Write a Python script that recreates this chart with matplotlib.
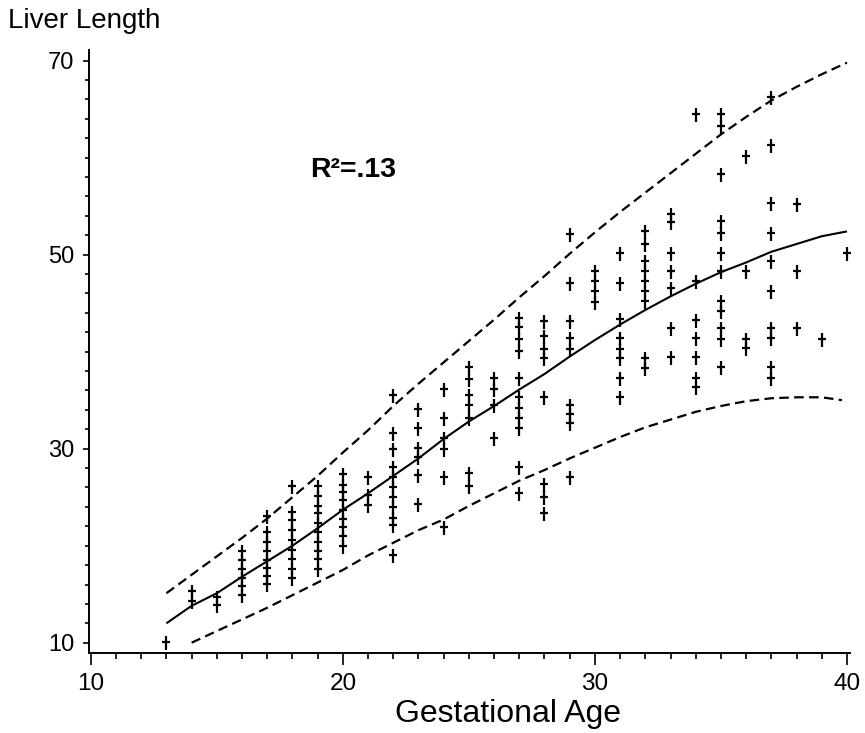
import matplotlib
matplotlib.use("Agg")
import matplotlib.pyplot as plt
from matplotlib.path import Path
from matplotlib.ticker import MultipleLocator

plt.rcParams['font.family'] = ['Liberation Sans', 'DejaVu Sans']

# ---- data ----
weeks = [13, 14, 15, 16, 17, 18, 19, 20, 21, 22, 23, 24, 25, 26,
         27, 28, 29, 30, 31, 32, 33, 34, 35, 36, 37, 38, 39, 40]
lengths_by_week = [
    [10.0],
    [15.2, 14.2],
    [14.6, 13.8],
    [19.3, 18.4, 17.5, 16.6, 15.7, 14.8],
    [23.0, 21.3, 20.3, 19.3, 18.4, 17.6, 16.8, 15.9],
    [26.0, 23.4, 22.5, 21.5, 20.5, 19.5, 18.5, 17.5, 16.6],
    [26.0, 25.0, 24.0, 23.3, 22.2, 21.3, 20.3, 19.4, 18.5, 17.5],
    [27.3, 26.2, 25.4, 24.6, 23.6, 22.7, 21.8, 20.9, 19.9],
    [27.0, 25.1, 24.1],
    [35.4, 31.5, 29.9, 28.0, 27.0, 25.9, 24.9, 23.9, 22.8, 22.0, 18.9],
    [34.0, 32.0, 30.0, 29.0, 27.2, 24.2],
    [36.1, 33.1, 31.0, 29.9, 27.0, 21.8],
    [38.3, 37.1, 35.4, 34.4, 33.1, 27.4, 26.0],
    [37.2, 36.1, 34.4, 31.0],
    [43.4, 42.4, 41.2, 40.0, 37.2, 35.2, 34.1, 33.1, 32.0, 28.0, 25.3],
    [43.1, 41.5, 40.2, 39.2, 35.2, 26.3, 24.9, 23.3],
    [52.0, 47.0, 43.1, 41.3, 40.2, 34.4, 33.5, 32.5, 27.0],
    [48.2, 47.2, 46.2, 45.0],
    [50.1, 47.0, 43.3, 41.3, 40.2, 39.2, 37.2, 35.2],
    [52.3, 51.0, 49.2, 48.2, 47.2, 46.2, 45.1, 39.2, 38.2],
    [54.1, 53.3, 50.1, 48.2, 46.5, 42.3, 39.3],
    [64.4, 47.2, 43.2, 41.3, 39.3, 37.2, 36.3],
    [64.4, 63.2, 58.2, 53.4, 52.1, 50.1, 48.2, 45.1, 44.1, 42.3, 41.2, 38.3],
    [60.1, 48.2, 41.2, 40.3],
    [66.2, 61.2, 55.2, 52.1, 49.2, 46.2, 42.3, 41.3, 38.3, 37.2],
    [55.1, 48.2, 42.3],
    [41.2],
    [50.1],
]

fit_x = [13, 14, 15, 16, 17, 18, 19, 20, 21, 22, 23, 24, 25, 26,
         27, 28, 29, 30, 31, 32, 33, 34, 35, 36, 37, 38, 39, 40]
fit_y = [12.0, 13.8, 15.1, 16.8, 18.4, 20.0, 21.8, 23.7, 25.4, 27.2, 29.0, 31.0, 32.8, 34.4,
         36.1, 37.7, 39.5, 41.2, 42.8, 44.3, 45.7, 47.0, 48.2, 49.2, 50.3, 51.1, 51.9, 52.4]

upper_x = fit_x
upper_y = [15.1, 17.0, 18.9, 20.8, 22.8, 25.0, 27.2, 29.6, 31.9, 34.4, 36.7, 38.9, 41.1, 43.3,
           45.6, 47.8, 50.1, 52.3, 54.4, 56.4, 58.4, 60.4, 62.4, 64.2, 65.9, 67.3, 68.6, 69.8]

lower_x = [14, 15, 16, 17, 18, 19, 20, 21, 22, 23, 24, 25, 26,
           27, 28, 29, 30, 31, 32, 33, 34, 35, 36, 37, 38, 39, 39.8]
lower_y = [10.0, 11.2, 12.4, 13.6, 14.9, 16.2, 17.5, 19.0, 20.3, 21.6, 22.7, 24.1, 25.4,
           26.7, 27.8, 29.0, 30.1, 31.2, 32.2, 33.0, 33.8, 34.4, 34.9, 35.2, 35.3, 35.3, 35.0]

x_ticks = [10, 20, 30, 40]
y_ticks = [10, 30, 50, 70]

# ---- figure ----
fig = plt.figure(figsize=(8.65, 7.33), dpi=100)
ax = fig.add_axes([89 / 865, 80.3 / 733, 761 / 865, 602.7 / 733])

# custom "+" marker (tall vertical, short bar)
cross = Path([(0, -0.5), (0, 0.5), (-0.34, 0.04), (0.34, 0.04)],
             [Path.MOVETO, Path.LINETO, Path.MOVETO, Path.LINETO])

xs, ys = [], []
for w, vals in zip(weeks, lengths_by_week):
    for v in vals:
        xs.append(w)
        ys.append(v)
ax.scatter(xs, ys, marker=cross, s=90, c='black', linewidths=1.6, zorder=3)

ax.plot(fit_x, fit_y, color='black', lw=1.5, solid_capstyle='butt')
ax.plot(upper_x, upper_y, color='black', lw=1.6, linestyle=(0, (4.3, 2.4)))
ax.plot(lower_x, lower_y, color='black', lw=1.6, linestyle=(0, (4.3, 2.4)))

ax.set_xlim(9.93, 40.12)
ax.set_ylim(8.97, 71.1)

for s in ['top', 'right']:
    ax.spines[s].set_visible(False)
for s in ['left', 'bottom']:
    ax.spines[s].set_linewidth(1.4)

ax.set_xticks(x_ticks)
ax.set_yticks(y_ticks)
ax.xaxis.set_minor_locator(MultipleLocator(1))
ax.yaxis.set_minor_locator(MultipleLocator(2))
ax.tick_params(axis='x', which='major', direction='out', length=8.5, width=1.2,
               pad=6, labelsize=17.5)
ax.tick_params(axis='x', which='minor', direction='out', length=4.3, width=1.2)
ax.tick_params(axis='y', which='major', direction='out', length=4.5, width=1.2,
               pad=6, labelsize=17)
ax.tick_params(axis='y', which='minor', direction='out', length=3, width=1.2)

ax.text(20.4, 58.7, 'R\u00b2=.13', fontsize=20.5, fontweight='bold',
        ha='center', va='center')

fig.text(8 / 865, 1 - 21 / 733, 'Liver Length', fontsize=20, ha='left', va='center')
fig.text(508 / 865, 1 - 714 / 733, 'Gestational Age', fontsize=23, ha='center', va='center')

fig.savefig('out.png', dpi=100)
